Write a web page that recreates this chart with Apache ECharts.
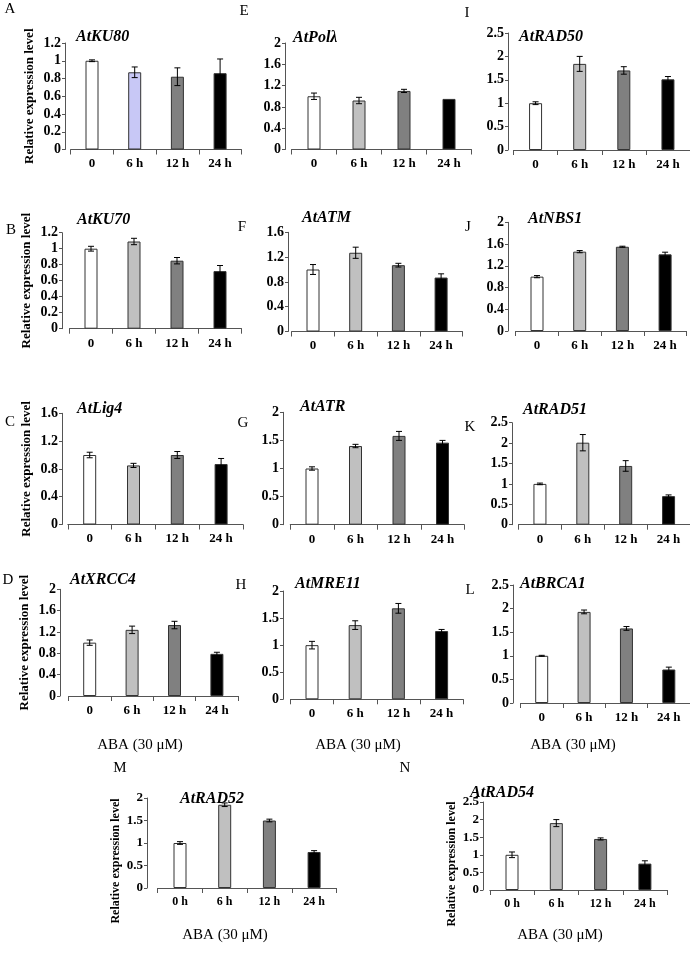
<!DOCTYPE html>
<html><head><meta charset="utf-8">
<script src="https://cdn.jsdelivr.net/npm/echarts@6/dist/echarts.min.js"></script>
<style>html,body{margin:0;padding:0;background:#fff}#c{width:690px;height:960px}</style>
</head><body><div id="c"></div>
<script>
// ---- data ----
const categories = ['0', '6 h', '12 h', '24 h'];
const categoriesMN = ['0 h', '6 h', '12 h', '24 h'];

const ku80 = [1.0, 0.87, 0.82, 0.86];      const ku80Err = [0.01, 0.06, 0.10, 0.16];
const polL = [1.0, 0.92, 1.10, 0.95];      const polLErr = [0.06, 0.06, 0.03, 0];
const rad50 = [1.0, 1.84, 1.70, 1.51];     const rad50Err = [0.03, 0.16, 0.08, 0.06];
const ku70 = [1.0, 1.09, 0.85, 0.72];      const ku70Err = [0.03, 0.04, 0.04, 0.07];
const atm = [1.0, 1.27, 1.07, 0.87];       const atmErr = [0.08, 0.09, 0.03, 0.06];
const nbs1 = [1.0, 1.46, 1.55, 1.41];      const nbs1Err = [0.02, 0.02, 0.01, 0.04];
const lig4 = [1.0, 0.85, 1.0, 0.87];       const lig4Err = [0.04, 0.03, 0.05, 0.08];
const atr = [1.0, 1.40, 1.58, 1.46];       const atrErr = [0.03, 0.03, 0.08, 0.04];
const rad51 = [1.0, 2.01, 1.44, 0.70];     const rad51Err = [0.02, 0.20, 0.13, 0.03];
const xrcc4 = [1.0, 1.24, 1.33, 0.79];     const xrcc4Err = [0.05, 0.07, 0.07, 0.03];
const mre11 = [1.0, 1.37, 1.68, 1.26];     const mre11Err = [0.07, 0.08, 0.09, 0.03];
const brca1 = [1.0, 1.93, 1.58, 0.71];     const brca1Err = [0.01, 0.04, 0.04, 0.05];
const rad52 = [1.0, 1.85, 1.50, 0.80];     const rad52Err = [0.03, 0.04, 0.03, 0.03];
const rad54 = [1.0, 1.90, 1.45, 0.75];     const rad54Err = [0.08, 0.10, 0.03, 0.08];

const yTicksMax = { ku80: 1.2, polL: 2, rad50: 2.5, ku70: 1.2, atm: 1.6, nbs1: 2, lig4: 1.6, atr: 2, rad51: 2.5, xrcc4: 2, mre11: 2, brca1: 2.5, rad52: 2, rad54: 2.5 };
const yTicksStep = { ku80: 0.2, polL: 0.4, rad50: 0.5, ku70: 0.2, atm: 0.4, nbs1: 0.4, lig4: 0.4, atr: 0.5, rad51: 0.5, xrcc4: 0.4, mre11: 0.5, brca1: 0.5, rad52: 0.5, rad54: 0.5 };

// ---- layout / style ----
const barColors = ['#ffffff', '#c0c0c0', '#808080', '#000000'];
const barColorsA = ['#ffffff', '#c8c8f6', '#808080', '#000000'];
const SERIF = 'Liberation Serif';

const panels = [
  { key: 'ku80', title: 'AtKU80', vals: ku80, errs: ku80Err, cats: categories, colors: barColorsA, letter: 'A', lx: 10, ly: 9, tx: 76, ty: 37, axisX: 65, c0: 92, sp: 42.7, top: 43, zero: 149.5, ylab: true },
  { key: 'polL', title: 'AtPolλ', vals: polL, errs: polLErr, cats: categories, letter: 'E', lx: 244, ly: 11, tx: 293, ty: 37.5, axisX: 285, c0: 314, sp: 45, top: 43, zero: 149.5 },
  { key: 'rad50', title: 'AtRAD50', vals: rad50, errs: rad50Err, cats: categories, letter: 'I', lx: 467, ly: 13, tx: 519, ty: 37, axisX: 508, c0: 536, sp: 45, top: 33, zero: 150 },
  { key: 'ku70', title: 'AtKU70', vals: ku70, errs: ku70Err, cats: categories, letter: 'B', lx: 11, ly: 230, tx: 77, ty: 220, axisX: 62, c0: 91, sp: 43, top: 232.7, zero: 328.7, ylab: true },
  { key: 'atm', title: 'AtATM', vals: atm, errs: atmErr, cats: categories, letter: 'F', lx: 242, ly: 227, tx: 302, ty: 218, axisX: 288, c0: 313, sp: 42.7, top: 232.3, zero: 331.5 },
  { key: 'nbs1', title: 'AtNBS1', vals: nbs1, errs: nbs1Err, cats: categories, letter: 'J', lx: 468, ly: 227, tx: 528, ty: 218.5, axisX: 508, c0: 537, sp: 42.7, top: 222.3, zero: 331 },
  { key: 'lig4', title: 'AtLig4', vals: lig4, errs: lig4Err, cats: categories, letter: 'C', lx: 10, ly: 422, tx: 77, ty: 409, axisX: 62, c0: 89.7, sp: 43.8, top: 413.3, zero: 524.5, ylab: true },
  { key: 'atr', title: 'AtATR', vals: atr, errs: atrErr, cats: categories, letter: 'G', lx: 243, ly: 423, tx: 300, ty: 407, axisX: 283, c0: 312, sp: 43.5, top: 412.3, zero: 524.7 },
  { key: 'rad51', title: 'AtRAD51', vals: rad51, errs: rad51Err, cats: categories, letter: 'K', lx: 470, ly: 427, tx: 523, ty: 410, axisX: 512, c0: 540, sp: 43, top: 422.7, zero: 524.7 },
  { key: 'xrcc4', title: 'AtXRCC4', vals: xrcc4, errs: xrcc4Err, cats: categories, letter: 'D', lx: 8, ly: 580, tx: 70, ty: 580, axisX: 60, c0: 89.7, sp: 42.4, top: 589.3, zero: 696, ylab: true },
  { key: 'mre11', title: 'AtMRE11', vals: mre11, errs: mre11Err, cats: categories, letter: 'H', lx: 241, ly: 585, tx: 295, ty: 584, axisX: 283, c0: 312, sp: 43.2, top: 591, zero: 699.3 },
  { key: 'brca1', title: 'AtBRCA1', vals: brca1, errs: brca1Err, cats: categories, letter: 'L', lx: 470, ly: 590, tx: 520, ty: 583.5, axisX: 513, c0: 542, sp: 43, top: 585, zero: 703 },
  { key: 'rad52', title: 'AtRAD52', vals: rad52, errs: rad52Err, cats: categoriesMN, letter: 'M', lx: 120, ly: 768, tx: 180, ty: 799, axisX: 147, c0: 180, sp: 44.7, top: 798, zero: 888, ylab: true, small: true },
  { key: 'rad54', title: 'AtRAD54', vals: rad54, errs: rad54Err, cats: categoriesMN, letter: 'N', lx: 405, ly: 768, tx: 470, ty: 793, axisX: 483, c0: 512, sp: 44.3, top: 802, zero: 890, ylab: true, small: true }
];

const ABA = [
  { x: 140, y: 745 }, { x: 358, y: 745 }, { x: 573, y: 745 }, { x: 225, y: 935 }, { x: 560, y: 935 }
];

const grid = [], xAxis = [], yAxis = [], series = [], graphic = [];

panels.forEach((p, i) => {
  const left = p.c0 - p.sp / 2;
  grid.push({ left: left, top: p.top, width: 4 * p.sp, height: p.zero - p.top, containLabel: false });
  xAxis.push({
    type: 'category', gridIndex: i, data: p.cats,
    axisLine: { lineStyle: { color: '#555', width: 1 } },
    axisTick: { show: true, length: 5, lineStyle: { color: '#555' } },
    axisLabel: { color: '#000', fontFamily: SERIF, fontWeight: 'bold', fontSize: p.small ? 12 : 13, margin: 8 }
  });
  yAxis.push({
    type: 'value', gridIndex: i, min: 0, max: yTicksMax[p.key], interval: yTicksStep[p.key],
    offset: left - p.axisX,
    splitLine: { show: false },
    axisLine: { show: true, lineStyle: { color: '#555', width: 1 } },
    axisTick: { show: true, length: 3, lineStyle: { color: '#555' } },
    axisLabel: { color: '#000', fontFamily: SERIF, fontWeight: 'bold', fontSize: p.small ? 13 : 14, margin: 4 },
    name: p.ylab ? 'Relative expression level' : '',
    nameLocation: 'middle', nameRotate: 90, nameGap: p.small ? 25 : 29,
    nameTextStyle: { color: '#000', fontFamily: SERIF, fontWeight: 'bold', fontSize: p.small ? 12 : 13, padding: p.small ? [0, 36, 0, 0] : 0 }
  });
  const colors = p.colors || barColors;
  series.push({
    type: 'bar', xAxisIndex: i, yAxisIndex: i, barWidth: 13,
    data: p.vals.map((v, k) => ({ value: v, itemStyle: { color: colors[k] } })),
    itemStyle: { borderColor: '#333', borderWidth: 1 },
    silent: true, animation: false
  });
  series.push({
    type: 'custom', xAxisIndex: i, yAxisIndex: i, z: 5, silent: true, animation: false,
    data: p.vals.map((v, k) => [k, v, p.errs[k]]),
    encode: { x: 0, y: 1 },
    renderItem: function (params, api) {
      const idx = api.value(0), v = api.value(1), e = api.value(2);
      if (!e) return { type: 'group', children: [] };
      const t = api.coord([idx, v + e]);
      const b = api.coord([idx, v - e]);
      const cap = 3;
      const st = { stroke: '#000', lineWidth: 1 };
      return {
        type: 'group', children: [
          { type: 'line', shape: { x1: t[0], y1: t[1], x2: b[0], y2: b[1] }, style: st },
          { type: 'line', shape: { x1: t[0] - cap, y1: t[1], x2: t[0] + cap, y2: t[1] }, style: st },
          { type: 'line', shape: { x1: b[0] - cap, y1: b[1], x2: b[0] + cap, y2: b[1] }, style: st }
        ]
      };
    }
  });
  graphic.push({
    type: 'text', x: p.lx, y: p.ly,
    style: { text: p.letter, fontFamily: SERIF, fontSize: 15, fill: '#000', align: 'center', verticalAlign: 'middle' }
  });
  graphic.push({
    type: 'text', x: p.tx, y: p.ty,
    style: { text: p.title, fontFamily: SERIF, fontSize: 16, fontStyle: 'italic', fontWeight: 'bold', fill: '#000', align: 'left', verticalAlign: 'middle' }
  });
});

ABA.forEach(a => {
  graphic.push({
    type: 'text', x: a.x, y: a.y,
    style: { text: 'ABA (30 μM)', fontFamily: SERIF, fontSize: 15, fill: '#000', align: 'center', verticalAlign: 'middle' }
  });
});

const chart = echarts.init(document.getElementById('c'), null, { renderer: 'canvas' });
chart.setOption({ animation: false, backgroundColor: '#fff', grid, xAxis, yAxis, series, graphic });
</script></body></html>
